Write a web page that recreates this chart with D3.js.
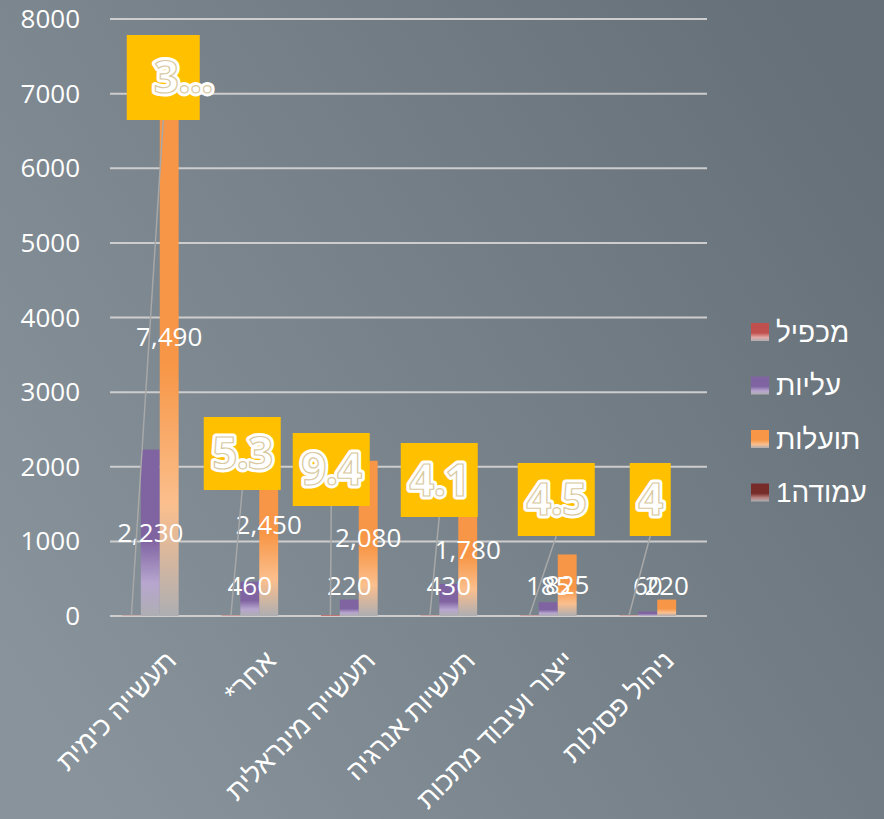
<!DOCTYPE html>
<html>
<head>
<meta charset="utf-8">
<script src="https://d3js.org/d3.v7.min.js"></script>
<style>
  body { margin: 0; }
  svg { display: block; }
  text { font-family: "Open Sans", "Liberation Sans", "DejaVu Sans", sans-serif; fill: #fff; }
  .heb { font-family: "Liberation Sans", "DejaVu Sans", sans-serif; }
</style>
</head>
<body>
<script>
// categories and series
var categories = ["תעשייה כימית", "אחר*", "תעשייה מינראלית", "תעשיות אנרגיה", "ייצור ועיבוד מתכות", "ניהול פסולות"];
var multiplier = [3.36, 5.3, 9.4, 4.1, 4.5, 4];
var costs = [2230, 460, 220, 430, 185, 60];
var benefits = [7490, 2450, 2080, 1780, 825, 220];
var column1 = [null, null, null, null, null, null];
var multLabels = ["3...", "5.3", "9.4", "4.1", "4.5", "4"];
var seriesNames = ["מכפיל", "עליות", "תועלות", "עמודה1"];
var yTicks = [0, 1000, 2000, 3000, 4000, 5000, 6000, 7000, 8000];

// where the multiplier boxes were dragged to (px offset from band centre, top y, width, height)
var boxPlace = [[3.5, 35, 73, 85], [-17, 417, 77, 73], [-27.5, 433, 77, 73],
                [-19, 443, 77, 74], [-1.5, 463, 77, 73], [-7, 463, 41, 73]];

var W = 884, H = 819;
var margin = {top: 19, left: 110, right: 177, bottom: 203};
var plotW = W - margin.left - margin.right;
var plotH = H - margin.top - margin.bottom;

var colors = ["#c0504d", "#8064a2", "#f79646", "#772c2a"];
var light = ["#e2a9a7", "#b7a6cf", "#fbbf8d", "#b88583"];

var svg = d3.select("body").append("svg").attr("width", W).attr("height", H);
var defs = svg.append("defs");

var bg = defs.append("linearGradient").attr("id", "bg")
  .attr("x1", 0).attr("y1", 0.8).attr("x2", 1).attr("y2", 0.2);
bg.append("stop").attr("offset", 0).attr("stop-color", "#88939b");
bg.append("stop").attr("offset", 1).attr("stop-color", "#657078");
svg.append("rect").attr("width", W).attr("height", H).attr("fill", "url(#bg)");

colors.forEach(function(c, i) {
  var g = defs.append("linearGradient").attr("id", "grad" + i)
    .attr("x1", 0).attr("y1", 0).attr("x2", 0).attr("y2", 1);
  g.append("stop").attr("offset", 0).attr("stop-color", c);
  g.append("stop").attr("offset", 0.55).attr("stop-color", c);
  g.append("stop").attr("offset", 0.8).attr("stop-color", light[i]);
  g.append("stop").attr("offset", 1).attr("stop-color", "#aeaeb2");
});

var chart = svg.append("g").attr("transform", "translate(" + margin.left + "," + margin.top + ")");

var y = d3.scaleLinear().domain([0, 8000]).range([plotH, 0]);
var x0 = d3.scaleBand().domain(categories).range([0, plotW]).paddingInner(0.24).paddingOuter(0.12);
var x1 = d3.scaleBand().domain(d3.range(4)).range([0, x0.bandwidth()]);

// gridlines
chart.append("g").selectAll("line").data(yTicks).join("line")
  .attr("x1", 0).attr("x2", plotW)
  .attr("y1", function(d) { return y(d); }).attr("y2", function(d) { return y(d); })
  .attr("stroke", "#cdcdcd").attr("stroke-width", 2);

// y tick labels
chart.append("g").selectAll("text").data(yTicks).join("text")
  .attr("x", -30).attr("y", function(d) { return y(d); })
  .attr("dy", "0.35em").attr("text-anchor", "end")
  .style("font-size", "26px")
  .text(function(d) { return d; });

var series = [multiplier, costs, benefits, column1];

// bars
series.forEach(function(vals, si) {
  chart.append("g").selectAll("rect")
    .data(vals.map(function(v, i) { return {cat: categories[i], v: v}; }).filter(function(d) { return d.v != null; }))
    .join("rect")
    .attr("x", function(d) { return x0(d.cat) + x1(si); })
    .attr("y", function(d) { return y(d.v); })
    .attr("width", x1.bandwidth())
    .attr("height", function(d) { return y(0) - y(d.v); })
    .attr("fill", "url(#grad" + si + ")");
});

// value labels on costs & benefits
var fmt = d3.format(",");
[1, 2].forEach(function(si) {
  chart.append("g").selectAll("text")
    .data(series[si].map(function(v, i) { return {cat: categories[i], v: v}; }))
    .join("text")
    .attr("x", function(d) { return x0(d.cat) + x1(si) + x1.bandwidth() / 2; })
    .attr("y", function(d) { return Math.min(y(d.v / 2), y(0) - 30); })
    .attr("dy", "0.35em").attr("text-anchor", "middle")
    .style("font-size", "26px")
    .text(function(d) { return fmt(d.v); });
});

// multiplier boxes with leader lines
var boxes = chart.append("g").selectAll("g")
  .data(multiplier.map(function(v, i) { return {cat: categories[i], v: v, label: multLabels[i], p: boxPlace[i]}; }))
  .join("g");

boxes.append("line")
  .attr("x1", function(d) { return x0(d.cat) + x1(0) + x1.bandwidth() / 2; })
  .attr("y1", function(d) { return y(d.v); })
  .attr("x2", function(d) { return x0(d.cat) + x0.bandwidth() / 2 + d.p[0]; })
  .attr("y2", function(d) { return d.p[1] - margin.top + d.p[3]; })
  .attr("stroke", "#a8a8a8").attr("stroke-width", 1.5);

boxes.append("rect")
  .attr("x", function(d) { return x0(d.cat) + x0.bandwidth() / 2 + d.p[0] - d.p[2] / 2; })
  .attr("y", function(d) { return d.p[1] - margin.top; })
  .attr("width", function(d) { return d.p[2]; })
  .attr("height", function(d) { return d.p[3]; })
  .attr("fill", "#ffc000");

function boxText(sel, stroke, width) {
  sel.append("text")
    .attr("x", function(d) { return x0(d.cat) + x0.bandwidth() / 2 + d.p[0] + (d.label.length > 3 ? 20 : 0); })
    .attr("y", function(d) { return d.p[1] - margin.top + d.p[3] / 2; })
    .attr("dy", "0.36em").attr("text-anchor", "middle")
    .style("font-size", "44px").style("font-weight", "bold")
    .style("letter-spacing", "-1px")
    .attr("stroke", stroke).attr("stroke-width", width).attr("stroke-linejoin", "round")
    .text(function(d) { return d.label; });
}
boxText(boxes, "#ffffff", 7);
boxText(boxes, "#d8c9a0", 1.2);

// category labels
chart.append("g").selectAll("text").data(categories).join("text")
  .attr("class", "heb")
  .attr("transform", function(d) { return "translate(" + (x0(d) + x0.bandwidth() / 2 + 4) + "," + (plotH + 32) + ") rotate(-45)"; })
  .attr("dy", "0.75em")
  .attr("direction", "rtl")
  .attr("text-anchor", "start")
  .style("font-size", "27px")
  .text(function(d) { return d; });

// legend
var legend = svg.append("g").attr("transform", "translate(751,332)");
var items = legend.selectAll("g").data(seriesNames).join("g")
  .attr("transform", function(d, i) { return "translate(0," + (i * 53.5) + ")"; });
items.append("rect").attr("x", 0).attr("y", -9).attr("width", 18).attr("height", 18)
  .attr("fill", function(d, i) { return "url(#grad" + i + ")"; });
items.append("text").attr("class", "heb").attr("x", 25).attr("dy", "0.35em")
  .style("font-size", "28px")
  .text(function(d) { return d; });
</script>
</body>
</html>
